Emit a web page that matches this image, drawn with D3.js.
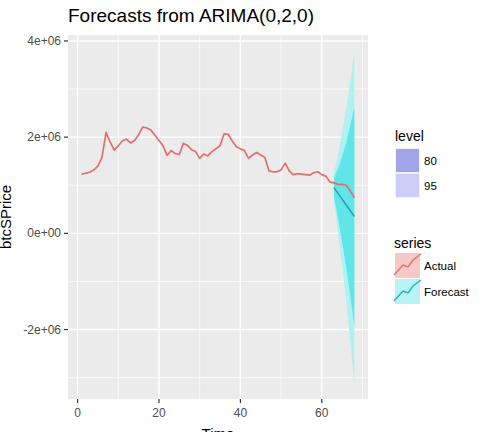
<!DOCTYPE html>
<html>
<head>
<meta charset="utf-8">
<script src="https://cdn.jsdelivr.net/npm/d3@7"></script>
<style>
body { margin: 0; background: #fff; }
svg { display: block; font-family: "Liberation Sans", Arial, sans-serif; }
</style>
</head>
<body>
<svg id="chart"></svg>
<script>
// observed series (btcSPrice), t = 1..68
const actualTime = d3.range(1, 69);
const actualValues = [
    1230000, 1250000, 1270000, 1320000, 1400000, 1580000, 2100000, 1900000, 1730000, 1820000,
    1920000, 1960000, 1880000, 1930000, 2050000, 2210000, 2190000, 2150000, 2040000, 1930000,
    1820000, 1620000, 1720000, 1660000, 1640000, 1870000, 1830000, 1740000, 1700000, 1560000,
    1650000, 1610000, 1700000, 1760000, 1820000, 2070000, 2060000, 1920000, 1800000, 1760000,
    1720000, 1560000, 1630000, 1680000, 1630000, 1580000, 1300000, 1280000, 1280000, 1320000,
    1460000, 1300000, 1220000, 1240000, 1230000, 1220000, 1210000, 1260000, 1280000, 1220000,
    1190000, 1070000, 1050000, 1020000, 1020000, 1000000, 880000, 740000
];

// forecast horizon
const fcTime = [63, 64, 65, 66, 67, 68];
const fcMean = [950000, 830000, 710000, 590000, 470000, 350000];
const lo80 = [760000, 310000, -180000, -710000, -1300000, -1920000];
const hi80 = [1140000, 1350000, 1600000, 1890000, 2240000, 2620000];
const lo95 = [660000, 20000, -660000, -1410000, -2240000, -3100000];
const hi95 = [1240000, 1640000, 2080000, 2590000, 3180000, 3780000];

const xTicks = [0, 20, 40, 60];
const xMinor = [10, 30, 50, 70];
const yTicks = [-2e6, 0, 2e6, 4e6];
const yMinor = [-3e6, -1e6, 1e6, 3e6];

const levels = ["80", "95"];
const seriesNames = ["Actual", "Forecast"];

const width = 488;
const height = 432;
const panel = { left: 68, right: 368, top: 35, bottom: 399 };

const svg = d3.select("#chart")
    .attr("width", width)
    .attr("height", height);

svg.append("rect").attr("width", width).attr("height", height).attr("fill", "#fff");

// ggplot style 5% expansion
function expand(ext) {
    const pad = (ext[1] - ext[0]) * 0.05;
    return [ext[0] - pad, ext[1] + pad];
}

const x = d3.scaleLinear()
    .domain(expand([1, 68]))
    .range([panel.left, panel.right]);

const allY = actualValues.concat(lo95, hi95);
const y = d3.scaleLinear()
    .domain(expand(d3.extent(allY)))
    .range([panel.bottom, panel.top]);

// R style scientific labels: 4e+06, 0e+00, -2e+06
const sci = d => {
    const [m, e] = d3.format(".0e")(d).replace("\u2212", "-").split("e");
    return m + "e" + e[0] + e.slice(1).padStart(2, "0");
};

// panel + grid
svg.append("rect")
    .attr("x", panel.left).attr("y", panel.top)
    .attr("width", panel.right - panel.left)
    .attr("height", panel.bottom - panel.top)
    .attr("fill", "#EBEBEB");

const grid = svg.append("g");
grid.selectAll(".vminor").data(xMinor).enter().append("line")
    .attr("x1", d => x(d)).attr("x2", d => x(d))
    .attr("y1", panel.top).attr("y2", panel.bottom)
    .attr("stroke", "#fff").attr("stroke-width", 0.7);
grid.selectAll(".hminor").data(yMinor).enter().append("line")
    .attr("y1", d => y(d)).attr("y2", d => y(d))
    .attr("x1", panel.left).attr("x2", panel.right)
    .attr("stroke", "#fff").attr("stroke-width", 0.7);
grid.selectAll(".vmajor").data(xTicks).enter().append("line")
    .attr("x1", d => x(d)).attr("x2", d => x(d))
    .attr("y1", panel.top).attr("y2", panel.bottom)
    .attr("stroke", "#fff").attr("stroke-width", 1.4);
grid.selectAll(".hmajor").data(yTicks).enter().append("line")
    .attr("y1", d => y(d)).attr("y2", d => y(d))
    .attr("x1", panel.left).attr("x2", panel.right)
    .attr("stroke", "#fff").attr("stroke-width", 1.4);

// prediction intervals
const fc = fcTime.map((t, i) => ({ t, mean: fcMean[i], lo80: lo80[i], hi80: hi80[i], lo95: lo95[i], hi95: hi95[i] }));

svg.append("path")
    .datum(fc)
    .attr("fill", "#b0f1f2")
    .attr("d", d3.area().x(d => x(d.t)).y0(d => y(d.lo95)).y1(d => y(d.hi95)));

svg.append("path")
    .datum(fc)
    .attr("fill", "#60e5e8")
    .attr("d", d3.area().x(d => x(d.t)).y0(d => y(d.lo80)).y1(d => y(d.hi80)));

// lines
const line = d3.line().x(d => x(d[0])).y(d => y(d[1]));

svg.append("path")
    .datum(actualTime.map((t, i) => [t, actualValues[i]]))
    .attr("fill", "none")
    .attr("stroke", "#E0706B")
    .attr("stroke-width", 1.7)
    .attr("stroke-linejoin", "round")
    .attr("d", line);

svg.append("path")
    .datum(fcTime.map((t, i) => [t, fcMean[i]]))
    .attr("fill", "none")
    .attr("stroke", "#1CA3A7")
    .attr("stroke-width", 1.4)
    .attr("d", line);

// axes
const xAxis = svg.append("g");
xAxis.selectAll("line").data(xTicks).enter().append("line")
    .attr("x1", d => x(d)).attr("x2", d => x(d))
    .attr("y1", panel.bottom).attr("y2", panel.bottom + 4)
    .attr("stroke", "#333").attr("stroke-width", 1.2);
xAxis.selectAll("text").data(xTicks).enter().append("text")
    .attr("x", d => x(d)).attr("y", panel.bottom + 18)
    .attr("text-anchor", "middle")
    .attr("font-size", 12).attr("fill", "#4D4D4D")
    .text(d => d);

const yAxis = svg.append("g");
yAxis.selectAll("line").data(yTicks).enter().append("line")
    .attr("x1", panel.left - 4).attr("x2", panel.left)
    .attr("y1", d => y(d)).attr("y2", d => y(d))
    .attr("stroke", "#333").attr("stroke-width", 1.2);
yAxis.selectAll("text").data(yTicks).enter().append("text")
    .attr("x", panel.left - 7).attr("y", d => y(d) + 4)
    .attr("text-anchor", "end")
    .attr("font-size", 12).attr("fill", "#4D4D4D")
    .text(sci);

svg.append("text")
    .attr("x", (panel.left + panel.right) / 2).attr("y", 439)
    .attr("text-anchor", "middle").attr("font-size", 15)
    .text("Time");

svg.append("text")
    .attr("transform", `translate(11,${(panel.top + panel.bottom) / 2}) rotate(-90)`)
    .attr("text-anchor", "middle").attr("font-size", 15)
    .text("btcSPrice");

svg.append("text")
    .attr("x", panel.left).attr("y", 21.5)
    .attr("font-size", 19)
    .text("Forecasts from ARIMA(0,2,0)");

// legends
const lg = svg.append("g").attr("transform", "translate(395,0)");
const levelFill = { "80": "#a2a5ea", "95": "#ccceF7" };

lg.append("text").attr("x", 0).attr("y", 141).attr("font-size", 14).text("level");
levels.forEach((lv, i) => {
    const top = 148 + i * 25;
    lg.append("rect").attr("x", 0).attr("y", top).attr("width", 25).attr("height", 25)
        .attr("fill", "#f2f2f2");
    lg.append("rect").attr("x", 1).attr("y", top + 1).attr("width", 23).attr("height", 23)
        .attr("fill", levelFill[lv]);
    lg.append("text").attr("x", 29).attr("y", top + 17)
        .attr("font-size", 11.5).text(lv);
});

const seriesKey = {
    Actual: { bg: "#f7c9c6", line: "#e0706b" },
    Forecast: { bg: "#baf3f4", line: "#1fb3b6" }
};
lg.append("text").attr("x", -1).attr("y", 248).attr("font-size", 14).text("series");
seriesNames.forEach((s, i) => {
    const top = 253 + i * 26;
    lg.append("rect").attr("x", 0).attr("y", top).attr("width", 25).attr("height", 25)
        .attr("fill", seriesKey[s].bg);
    lg.append("path")
        .attr("d", `M-1,${top + 22} L8,${top + 12} L13,${top + 14} L18,${top + 7} L26,${top + 1}`)
        .attr("fill", "none").attr("stroke", seriesKey[s].line).attr("stroke-width", 1.4);
    lg.append("text").attr("x", 29).attr("y", top + 17)
        .attr("font-size", 11.5).text(s);
});
</script>
</body>
</html>
